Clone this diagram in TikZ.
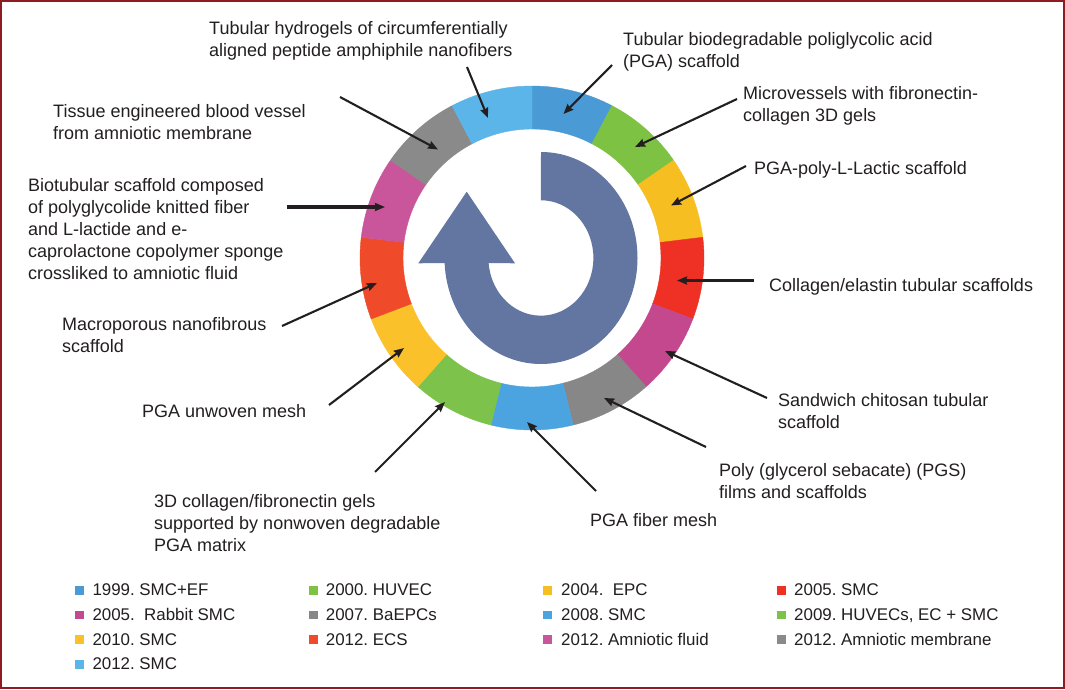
\documentclass[tikz,border=0pt]{standalone}
\usepackage{fontspec}
\setmainfont{Liberation Sans}
\usetikzlibrary{arrows.meta}
\definecolor{cA}{HTML}{4A9BD5}
\definecolor{cB}{HTML}{7DC243}
\definecolor{cC}{HTML}{F7BE22}
\definecolor{cD}{HTML}{EE3124}
\definecolor{cE}{HTML}{C3488E}
\definecolor{cF}{HTML}{878787}
\definecolor{cG}{HTML}{4BA4DF}
\definecolor{cH}{HTML}{7DC24B}
\definecolor{cI}{HTML}{FBC12A}
\definecolor{cJ}{HTML}{EF4A2A}
\definecolor{cK}{HTML}{C9569A}
\definecolor{cL}{HTML}{8A8A8A}
\definecolor{cM}{HTML}{5CB5E8}
\definecolor{arrowblue}{HTML}{6276A1}
\definecolor{framered}{HTML}{8E1B1F}
\definecolor{ink}{HTML}{231F20}
\frenchspacing
\begin{document}
\begin{tikzpicture}[x=1pt,y=-1pt,
  lbl/.style={anchor=north west, inner sep=0pt, align=left, text=ink,
    font=\fontsize{18}{22}\selectfont},
  conn/.style={draw=ink, line width=2.1pt, -{Stealth[length=10pt,width=8pt,inset=1pt]}},
  thickconn/.style={conn, line width=3.4pt},
  legsq/.style={minimum size=8.5pt, inner sep=0pt, draw=none},
  legtx/.style={anchor=base west, inner sep=0pt, text=ink,
    font=\fontsize{16.9}{20}\selectfont}]
\useasboundingbox (0,0) rectangle (1065,690);
\fill[white] (0,0) rectangle (1065,690);
\draw[framered, line width=2pt] (1,1) rectangle (1064,688);

% ring
\begin{scope}[shift={(532,258)}]
\foreach \c [count=\i from 0] in {cA,cB,cC,cD,cE,cF,cG,cH,cI,cJ,cK,cL,cM} {
  \pgfmathsetmacro\a{-90+\i*360/13}
  \pgfmathsetmacro\b{\a+360/13}
  \filldraw[\c, line width=0.4pt] (\a:172) arc[start angle=\a, end angle=\b, radius=172]
     -- (\b:129) arc[start angle=\b, end angle=\a, radius=129] -- cycle;
}
\end{scope}

% central circular arrow
\fill[arrowblue] (541,152) arc[start angle=-90, end angle=177.3, x radius=96.5, y radius=106]
  -- (418.3,263.3) -- (466.7,191.7) -- (515,263.3) -- (488.6,263)
  arc[start angle=175, end angle=-90, x radius=52.5, y radius=57.7] -- cycle;

% labels
\node[lbl] (L1) at (209,21.7) {Tubular hydrogels of circumferentially\\aligned peptide amphiphile nanofibers};
\node[lbl] (L2) at (53,104.3) {Tissue engineered blood vessel\\from amniotic membrane};
\node[lbl] (L3) at (28,178.3) {Biotubular scaffold composed\\of polyglycolide knitted fiber\\and L-lactide and e-\\caprolactone copolymer sponge\\crossliked to amniotic fluid};
\node[lbl] (L4) at (62,317.3) {Macroporous nanofibrous\\scaffold};
\node[lbl] (L5) at (142,404) {PGA unwoven mesh};
\node[lbl] (L6) at (154,494) {3D collagen/fibronectin gels\\supported by nonwoven degradable\\PGA matrix};
\node[lbl] (L7) at (590,513.3) {PGA fiber mesh};
\node[lbl] (L8) at (719,463.3) {Poly (glycerol sebacate) (PGS)\\films and scaffolds};
\node[lbl] (L9) at (778,393.3) {Sandwich chitosan tubular\\scaffold};
\node[lbl] (L10) at (769,278.3) {Collagen/elastin tubular scaffolds};
\node[lbl] (L11) at (754,161) {PGA-poly-L-Lactic scaffold};
\node[lbl] (L12) at (743,86) {Microvessels with fibronectin-\\collagen 3D gels};
\node[lbl] (L13) at (623,32.3) {Tubular biodegradable poliglycolic acid\\(PGA) scaffold};

% connector ends
\coordinate (t1) at (467,67);   \coordinate (h1) at (488,118);
\coordinate (t2) at (340,97);   \coordinate (h2) at (438,149.5);
\coordinate (t3) at (287,207);  \coordinate (h3) at (385,207);
\coordinate (t4) at (282,326);  \coordinate (h4) at (377,283);
\coordinate (t5) at (329,405);  \coordinate (h5) at (404,348);
\coordinate (t6) at (375,472);  \coordinate (h6) at (445,402);
\coordinate (t7) at (596,491);  \coordinate (h7) at (527,422);
\coordinate (t8) at (706,447);  \coordinate (h8) at (604,398);
\coordinate (t9) at (767,398);  \coordinate (h9) at (665,351);
\coordinate (t10) at (754,280.5); \coordinate (h10) at (677,280.5);
\coordinate (t11) at (746,166); \coordinate (h11) at (671,205.5);
\coordinate (t12) at (737,99);  \coordinate (h12) at (635,147);
\coordinate (t13) at (612,65);  \coordinate (h13) at (563.4,114);

\draw[conn] (t1) -- (h1);
\draw[conn] (t2) -- (h2);
\draw[thickconn] (t3) -- (h3);
\draw[conn] (t4) -- (h4);
\draw[conn] (t5) -- (h5);
\draw[conn] (t6) -- (h6);
\draw[conn] (t7) -- (h7);
\draw[conn] (t8) -- (h8);
\draw[conn] (t9) -- (h9);
\draw[thickconn] (t10) -- (h10);
\draw[conn] (t11) -- (h11);
\draw[conn] (t12) -- (h12);
\draw[conn] (t13) -- (h13);

% legend
\node[legsq, fill=cA] (s1) at (79.5,590.3) {};  \node[legtx] (k1) at (92.3,595.7) {1999. SMC+EF};
\node[legsq, fill=cB] (s2) at (313.5,590.3) {}; \node[legtx] (k2) at (325.7,595.7) {2000. HUVEC};
\node[legsq, fill=cC] (s3) at (547.5,590.3) {}; \node[legtx] (k3) at (561,595.7) {2004.\ \ EPC};
\node[legsq, fill=cD] (s4) at (781.5,590.3) {}; \node[legtx] (k4) at (794,595.7) {2005. SMC};
\node[legsq, fill=cE] (s5) at (79.5,615) {};    \node[legtx] (k5) at (92.3,620.4) {2005.\ \ Rabbit SMC};
\node[legsq, fill=cF] (s6) at (313.5,615) {};   \node[legtx] (k6) at (325.7,620.4) {2007. BaEPCs};
\node[legsq, fill=cG] (s7) at (547.5,615) {};   \node[legtx] (k7) at (561,620.4) {2008. SMC};
\node[legsq, fill=cH] (s8) at (781.5,615) {};   \node[legtx] (k8) at (794,620.4) {2009. HUVECs, EC + SMC};
\node[legsq, fill=cI] (s9) at (79.5,639.7) {};  \node[legtx] (k9) at (92.3,645.1) {2010. SMC};
\node[legsq, fill=cJ] (s10) at (313.5,639.7) {}; \node[legtx] (k10) at (325.7,645.1) {2012. ECS};
\node[legsq, fill=cK] (s11) at (547.5,639.7) {}; \node[legtx] (k11) at (561,645.1) {2012. Amniotic fluid};
\node[legsq, fill=cL] (s12) at (781.5,639.7) {}; \node[legtx] (k12) at (794,645.1) {2012. Amniotic membrane};
\node[legsq, fill=cM] (s13) at (79.5,664.4) {}; \node[legtx] (k13) at (92.3,669.8) {2012. SMC};
\end{tikzpicture}
\end{document}
